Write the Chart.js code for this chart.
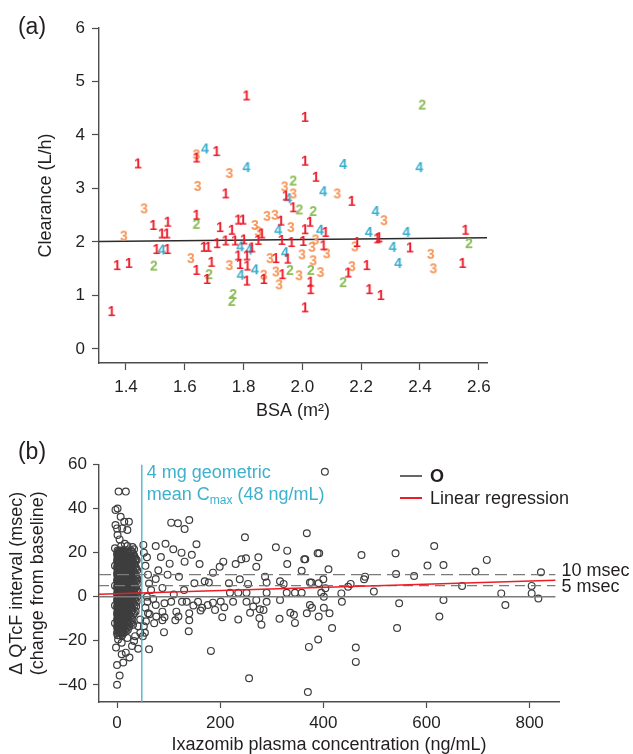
<!DOCTYPE html>
<html>
<head>
<meta charset="utf-8">
<script src="https://cdn.jsdelivr.net/npm/chart.js@4.4.1/dist/chart.umd.min.js"></script>
<style>
  html, body { margin: 0; padding: 0; background: #fff; overflow: hidden; }
  #wrap { position: relative; width: 633px; height: 754px; }
  #chartA { position: absolute; left: 0; top: 0; }
  #chartB { position: absolute; left: 0; top: 420px; }
</style>
</head>
<body>
<div id="wrap">
  <canvas id="chartA" width="633" height="425"></canvas>
  <canvas id="chartB" width="633" height="336"></canvas>
</div>
<script>
/* Panel (a): BSA vs clearance, digit = group ; panel (b): QTcF vs concentration */

// ---------- panel (a) data ----------
const group1 = [ // "1"
  [1.351, 0.69], [1.370, 1.55], [1.410, 1.59], [1.441, 3.45], [1.493, 2.30], [1.542, 2.36],
  [1.522, 2.14], [1.539, 2.14], [1.504, 1.85], [1.541, 1.85], [1.640, 3.56], [1.708, 3.68],
  [1.739, 2.89], [1.640, 2.49], [1.720, 2.26], [1.760, 2.21], [1.665, 1.89], [1.680, 1.89],
  [1.710, 1.96], [1.739, 2.01], [1.640, 1.46], [1.691, 1.61], [1.676, 1.29], [1.782, 2.40],
  [1.798, 2.40], [1.771, 2.01], [1.801, 2.03], [1.782, 1.73], [1.811, 1.73], [1.828, 1.88],
  [1.788, 1.57], [1.813, 1.54], [1.811, 1.26], [1.810, 4.72], [1.850, 2.02], [1.862, 2.14],
  [1.869, 1.29], [1.910, 1.68], [1.927, 2.38], [1.932, 1.38], [1.930, 2.02], [1.950, 1.67],
  [1.963, 1.98], [1.969, 2.63], [1.944, 2.85], [2.003, 2.00], [2.009, 2.22], [2.026, 2.36],
  [2.009, 3.50], [2.009, 4.32], [2.046, 3.20], [2.028, 1.24], [2.028, 1.10], [2.009, 0.76],
  [2.072, 1.92], [2.079, 2.17], [2.156, 1.41], [2.168, 2.75], [2.186, 1.98], [2.219, 1.55],
  [2.228, 1.10], [2.255, 2.05], [2.261, 2.07], [2.267, 0.99], [2.366, 1.88], [2.545, 1.59],
  [2.555, 2.21],
];
const group2 = [ // "2"
  [1.495, 1.54], [1.640, 2.32], [1.683, 1.38], [1.765, 1.01], [1.760, 0.88], [1.969, 3.13],
  [1.990, 2.59], [2.037, 2.56], [1.958, 1.46], [2.029, 1.46], [2.139, 1.23], [2.408, 4.55],
  [2.567, 1.96],
];
const group3 = [ // "3"
  [1.393, 2.10], [1.462, 2.61], [1.640, 3.62], [1.644, 3.03], [1.752, 3.27], [1.621, 1.68],
  [1.752, 1.55], [1.839, 2.30], [1.850, 2.18], [1.880, 2.47], [1.907, 2.49], [1.869, 1.37],
  [1.890, 1.68], [1.910, 1.43], [1.921, 1.19], [1.940, 3.02], [1.969, 2.89], [1.961, 2.26],
  [1.989, 1.36], [1.999, 1.75], [2.033, 1.89], [2.037, 1.64], [2.045, 2.03], [2.062, 1.42],
  [2.083, 1.77], [2.119, 2.89], [2.169, 1.53], [2.179, 1.90], [2.278, 2.39], [2.437, 1.76],
  [2.446, 1.49],
];
const group4 = [ // "4"
  [1.522, 1.84], [1.669, 3.73], [1.810, 3.38], [1.789, 1.90], [1.819, 1.84], [1.790, 1.37],
  [1.839, 1.47], [1.918, 2.21], [1.941, 1.79], [1.952, 2.80], [2.060, 2.21], [2.071, 2.93],
  [2.139, 3.44], [2.226, 2.17], [2.249, 2.56], [2.307, 1.89], [2.326, 1.59], [2.354, 2.17],
  [2.398, 3.38],
];
const regLineA = [[1.3082, 2.01], [2.628, 2.08]];
const xTicksA = [1.4, 1.6, 1.8, 2.0, 2.2, 2.4, 2.6];
const yTicksA = [0, 1, 2, 3, 4, 5, 6];

// ---------- panel (b) data ----------
// dense block of observations below the Cmax line: [delta, [concentrations...]]
const clusterRows = [
  [21,     [1, 4, 9, 14, 20, 27]],
  [20.25,  [2, 6, 11, 16, 22, 29]],
  [19.5,   [0, 3, 7, 12, 17, 23, 31]],
  [18.75,  [1, 4, 8, 13, 19, 25, 33]],
  [18,     [1, 5, 10, 15, 21, 26, 34]],
  [17.25,  [2, 6, 11, 16, 22, 28, 36]],
  [16.5,   [0, 3, 8, 12, 18, 24, 30, 38]],
  [15.75,  [1, 4, 9, 13, 19, 25, 31]],
  [15,     [1, 5, 10, 14, 20, 27, 33]],
  [14.25,  [2, 6, 11, 15, 21, 26, 34]],
  [13.5,   [0, 3, 7, 12, 17, 22, 29, 36]],
  [12.75,  [1, 4, 8, 13, 18, 23, 28, 37]],
  [12,     [1, 5, 9, 14, 19, 25, 31, 39]],
  [11.25,  [2, 6, 10, 15, 20, 26, 33]],
  [10.5,   [0, 3, 7, 11, 16, 21, 27, 34]],
  [9.75,   [1, 4, 8, 12, 17, 23, 29, 36]],
  [9,      [1, 5, 9, 13, 18, 24, 30, 37]],
  [8.25,   [2, 6, 10, 15, 20, 26, 32, 39]],
  [7.5,    [0, 3, 7, 12, 16, 22, 28, 35]],
  [6.75,   [1, 4, 8, 13, 18, 24, 30, 37]],
  [6,      [1, 5, 9, 14, 19, 25, 32, 40]],
  [5.25,   [2, 6, 10, 15, 21, 27, 34]],
  [4.5,    [0, 3, 7, 11, 17, 23, 29, 36]],
  [3.75,   [1, 4, 8, 12, 18, 22, 28, 35]],
  [3,      [1, 5, 9, 13, 18, 24, 31, 38]],
  [2.25,   [2, 6, 11, 15, 20, 26, 33, 40]],
  [1.5,    [0, 3, 7, 12, 16, 21, 27, 34]],
  [0.75,   [1, 4, 8, 13, 18, 23, 29, 36]],
  [0,      [1, 5, 9, 14, 19, 25, 30, 39]],
  [-0.75,  [2, 6, 10, 15, 20, 27, 33]],
  [-1.5,   [0, 3, 7, 11, 17, 22, 28, 35]],
  [-2.25,  [1, 4, 8, 12, 16, 23, 30, 38]],
  [-3,     [1, 5, 9, 13, 18, 24, 32]],
  [-3.75,  [2, 6, 10, 15, 20, 26, 34]],
  [-4.5,   [0, 3, 7, 12, 16, 21, 27, 37]],
  [-5.25,  [1, 4, 8, 13, 18, 23, 29]],
  [-6,     [1, 5, 9, 14, 19, 25, 30]],
  [-6.75,  [2, 6, 10, 15, 21, 28, 36]],
  [-7.5,   [0, 3, 7, 11, 17, 23, 33]],
  [-8.25,  [1, 4, 8, 12, 16, 24, 31]],
  [-9,     [1, 5, 9, 13, 18, 26]],
  [-9.75,  [2, 6, 10, 15, 20, 28]],
  [-10.5,  [0, 3, 7, 12, 16, 22, 30]],
  [-11.25, [1, 4, 8, 13, 18, 25]],
  [-12,    [1, 5, 9, 14, 20, 27]],
  [-12.75, [2, 6, 10, 15, 22, 31]],
  [-13.5,  [0, 3, 7, 11, 17, 24]],
  [-14.25, [1, 4, 8, 13, 19]],
  [-15,    [1, 5, 9, 15, 21]],
  [-15.75, [2, 6, 11, 17]],
  [-16.5,  [0, 4, 8, 13]],
  [-17.5,  [1, 5, 10]],
];
const clusterTails = [
  [3, 47.7], [17, 47.7], [-3, 39.4], [1, 40], [-3, 32.5], [7, 36.3], [14, 34], [23, 34],
  [20, 30.3], [1, 28], [5, 26], [33, 21.5], [27, 19.7], [36, 16.7], [0, 31], [10, 31],
  [8, 23], [15, 24], [20, 23], [30, 22.5], [-4, 22], [-4, 14], [-4, 5], [-4, -4], [-4, -12],
  [0, -40], [5, -35.8], [0, -31], [12, -29.9], [24, -27.6], [9, -26.1], [17, -25.4],
  [-2, -23.1], [29, -22.4], [41, -23.6], [33, -20.1], [9, -20.9], [2, -19.4], [45, -16.4],
  [35, -17.9], [20, -18.7], [41, -13.4], [45, -10.4],
];
const sparsePoints = [
  [51, 23.5], [58, 17.9], [75, 23], [94, 24], [105, 33.6], [118, 33.3], [131, 30.7], [140, 34.8],
  [154, 23.8], [109, 21.5], [131, 15.9], [160, 14.8], [186, 10.9], [206, 15.9], [199, 13.6],
  [248, 27], [241, 17], [250, 17.4], [274, 17.9], [270, 13.6], [230, 14.8], [308, 22.4],
  [330, 20.9], [330, 14.8], [363, 17], [368, 28.8], [389, 19.7], [358, 11.8], [150, 6.1],
  [178, 6.4], [217, 6.1], [238, 7.9], [254, 5.8], [287, 9.1], [290, 6.4], [316, 7], [323, 5.8],
  [374, 6.4], [219, 1.8], [235, 1.8], [251, 1.8], [290, 1.8], [329, 1.8], [345, 1.8], [358, 1.8],
  [105, -2.3], [126, -2.3], [135, -2.3], [157, -2.3], [186, -2.7], [225, -2.3], [251, -2.3],
  [270, -1.5], [290, -2.3], [316, -1.5], [374, -3.8], [176, -3.8], [258, -7.3], [277, -5.7],
  [336, -7.3], [368, -7.5], [115, -6.8], [88, -6.8], [75, -3.8], [59, -2.3],
  [403, 56.7], [392, 19.7], [365, 17], [410, 12.4], [400, 7.9], [377, 6.4], [391, 6.1],
  [404, 3.8], [396, 1.8], [401, 0], [435, 1.5], [436, -2.3], [378, -5], [401, -5], [391, -9],
  [412, -7.5], [474, 18.9], [481, 9.1], [479, 7.9], [453, 5.8], [448, 4.5], [498, 2.3],
  [540, 19.7], [541, 10.3], [547, -3], [576, 9.4], [602, 14.1], [615, 23], [633, 14.4],
  [633, -1.5], [625, -9], [669, 4.9], [695, 11.4], [717, 16.7], [745, 1.5], [753, -3.8],
  [804, 4.9], [804, 1.5], [817, -0.8], [822, 11.1],
  [201, -2.2], [208, -4.8], [204, -9.3], [190, -6], [162, -6.3], [140, -7.5], [140, -10.7],
  [139, -15.7], [119, -9], [113, -10.7], [92, -9.3], [91, -16.1], [88, -10.7], [76, -9],
  [60, -7.5], [56, -11.2], [54, -16.4], [52, -13.4], [62, -23.9], [182, -24.6], [235, -10.4],
  [256, -37], [264, -4.5], [276, -9.7], [280, -12.7], [284, -6], [315, -10], [343, -8.2],
  [345, -11.9], [417, -14.2], [372, -22.8], [390, -19.4], [370, -43.3], [463, -23.1],
  [463, -29.6], [543, -14.2],
  [52, 20], [55, 14], [60, 10], [62, 6], [66, 3], [58, 0], [70, -1], [75, 8], [80, 12],
  [85, 18], [88, 4], [92, -3], [98, 10], [102, 15], [110, 1], [120, 9], [125, 20], [130, 3],
  [145, 19], [148, -4], [165, -5], [170, 7], [55, -5], [63, -8], [72, -12], [50, -18],
];
const regLineB = [[-35, 1.1], [850, 7.5]];
const refLevels = [0, 5, 10];
const refSpan = [-35, 850];
const cmaxConc = 48;
const xTicksB = [0, 200, 400, 600, 800];
const yTicksB = [-40, -20, 0, 20, 40, 60];

// ---------- styling ----------
const FONT = '"Liberation Sans", Arial, Helvetica, sans-serif';
const INK = '#231f20';
const AXIS = '#4d4d4d';
const GROUP_COLORS = ['#ec1c2b', '#8cbd58', '#f6975a', '#3aadcd'];
const CYAN = '#3eb1cd';

Chart.defaults.font.family = FONT;
Chart.defaults.color = INK;

const toXY = (pts) => pts.map(([x, y]) => ({ x, y }));
const fixedTicks = (vals) => (scale) => { scale.ticks = vals.map((value) => ({ value })); };
const minus = (v) => (v < 0 ? '\u2212' + Math.abs(v) : String(v));

function digitImage(ch, color) {
  const c = document.createElement('canvas');
  c.width = 16;
  c.height = 20;
  const g = c.getContext('2d');
  g.font = 'bold 14px ' + FONT;
  g.fillStyle = color;
  g.textAlign = 'center';
  g.textBaseline = 'middle';
  g.fillText(ch, 8, 10.5);
  return c;
}

function axisStyle(extra) {
  return Object.assign({
    type: 'linear',
    grid: { drawOnChartArea: false, drawTicks: true, tickLength: 7, tickColor: AXIS, tickWidth: 1.2 },
    border: { display: true, color: AXIS, width: 1.4 },
  }, extra);
}

const panelLabel = (text, x, y) => ({
  id: 'panelLabel' + text,
  afterDraw(chart) {
    const { ctx } = chart;
    ctx.save();
    ctx.font = '23px ' + FONT;
    ctx.fillStyle = INK;
    ctx.textAlign = 'center';
    ctx.textBaseline = 'middle';
    ctx.fillText(text, x, y);
    ctx.restore();
  },
});

// ---------- chart (a) ----------
const groups = [group1, group2, group3, group4];
const datasetsA = groups.map((pts, i) => ({
  label: String(i + 1),
  data: toXY(pts),
  pointStyle: digitImage(String(i + 1), GROUP_COLORS[i]),
  pointRadius: 5,
  order: 1,
}));
datasetsA.push({
  type: 'line',
  label: 'fit',
  data: toXY(regLineA),
  borderColor: '#2b2b2b',
  borderWidth: 1.4,
  pointRadius: 0,
  order: 10,
});

new Chart(document.getElementById('chartA'), {
  type: 'scatter',
  data: { datasets: datasetsA },
  options: {
    responsive: false,
    animation: false,
    events: [],
    layout: { padding: { left: 0, top: 28, right: 146, bottom: 0 } },
    plugins: { legend: { display: false }, tooltip: { enabled: false } },
    scales: {
      x: axisStyle({
        min: 1.3082,
        max: 2.628,
        afterBuildTicks: fixedTicks(xTicksA),
        afterFit(s) { s.height = 62; s.paddingLeft = 0; s.paddingRight = 0; },
        ticks: { callback: (v) => v.toFixed(1), font: { size: 17 }, padding: 7, color: INK, maxRotation: 0, autoSkip: false },
        title: { display: true, text: 'BSA (m\u00b2)', font: { size: 18 }, color: INK, padding: { top: 0, bottom: 3 } },
      }),
      y: axisStyle({
        min: -0.262,
        max: 6,
        afterBuildTicks: fixedTicks(yTicksA),
        afterFit(s) { s.width = 99; s.paddingTop = 0; s.paddingBottom = 0; },
        ticks: { font: { size: 17 }, padding: 7, color: INK },
        title: { display: true, text: 'Clearance (L/h)', font: { size: 18 }, color: INK, padding: { top: 35, bottom: 0 } },
      }),
    },
  },
  plugins: [panelLabel('(a)', 32, 28)],
});

// ---------- chart (b) ----------
const clusterPts = [];
clusterRows.forEach(([y, xs]) => xs.forEach((x) => clusterPts.push({ x, y })));

const annotationsB = {
  id: 'annotationsB',
  afterDraw(chart) {
    const { ctx } = chart;
    const xs = chart.scales.x;
    const ys = chart.scales.y;
    ctx.save();
    ctx.textBaseline = 'middle';
    ctx.textAlign = 'left';

    // Cmax note
    const cx = xs.getPixelForValue(cmaxConc) + 5;
    ctx.fillStyle = CYAN;
    ctx.font = '18px ' + FONT;
    ctx.fillText('4 mg geometric', cx, 53);
    let tx = cx;
    ctx.fillText('mean C', tx, 75);
    tx += ctx.measureText('mean C').width;
    ctx.font = '12px ' + FONT;
    ctx.fillText('max', tx, 81);
    tx += ctx.measureText('max').width;
    ctx.font = '18px ' + FONT;
    ctx.fillText(' (48 ng/mL)', tx, 75);

    // legend
    ctx.lineWidth = 2;
    ctx.strokeStyle = '#666';
    ctx.beginPath(); ctx.moveTo(400, 56); ctx.lineTo(422, 56); ctx.stroke();
    ctx.strokeStyle = '#ee1c25';
    ctx.beginPath(); ctx.moveTo(400, 78); ctx.lineTo(422, 78); ctx.stroke();
    ctx.fillStyle = INK;
    ctx.font = 'bold 18px ' + FONT;
    ctx.fillText('O', 430, 57);
    ctx.font = '18px ' + FONT;
    ctx.fillText('Linear regression', 430, 79);

    // reference labels
    const lx = xs.getPixelForValue(refSpan[1]) + 6;
    ctx.fillText('10 msec', lx, ys.getPixelForValue(10) - 4);
    ctx.fillText('5 msec', lx, ys.getPixelForValue(5) + 1);
    ctx.restore();
  },
};

const pointStyleB = {
  pointRadius: 3.4,
  pointBackgroundColor: 'rgba(0,0,0,0)',
  pointBorderColor: '#3e3e3e',
  pointBorderWidth: 1.2,
  order: 5,
};

const refDatasets = refLevels.map((lvl) => ({
  type: 'line',
  label: 'ref' + lvl,
  data: [{ x: refSpan[0], y: lvl }, { x: refSpan[1], y: lvl }],
  borderColor: '#7a7a7a',
  borderWidth: 1.4,
  borderDash: lvl === 0 ? [] : (lvl === 10 ? [12, 6] : [10, 6]),
  pointRadius: 0,
  order: 3,
}));

new Chart(document.getElementById('chartB'), {
  type: 'scatter',
  data: {
    datasets: [
      Object.assign({ label: 'cluster', data: clusterPts }, pointStyleB),
      Object.assign({ label: 'tails', data: toXY(clusterTails) }, pointStyleB),
      Object.assign({ label: 'O', data: toXY(sparsePoints) }, pointStyleB),
      ...refDatasets,
      {
        type: 'line',
        label: 'Cmax',
        data: [{ x: cmaxConc, y: -47.8 }, { x: cmaxConc, y: 60 }],
        borderColor: CYAN,
        borderWidth: 1.3,
        pointRadius: 0,
        order: 2,
      },
      {
        type: 'line',
        label: 'Linear regression',
        data: toXY(regLineB),
        borderColor: '#ee1c25',
        borderWidth: 1.5,
        pointRadius: 0,
        order: 1,
      },
    ],
  },
  options: {
    responsive: false,
    animation: false,
    events: [],
    layout: { padding: { left: 0, top: 44.5, right: 74, bottom: 0 } },
    plugins: { legend: { display: false }, tooltip: { enabled: false } },
    scales: {
      x: axisStyle({
        min: -35,
        max: 857,
        afterBuildTicks: fixedTicks(xTicksB),
        afterFit(s) { s.height = 54; s.paddingLeft = 0; s.paddingRight = 0; },
        grid: { drawOnChartArea: false, tickLength: 6, tickColor: AXIS, tickWidth: 1.2 },
        ticks: { font: { size: 17 }, padding: 5, color: INK, maxRotation: 0, autoSkip: false },
        title: { display: true, text: 'Ixazomib plasma concentration (ng/mL)', font: { size: 18 }, color: INK, padding: { top: 0, bottom: 0 } },
      }),
      y: axisStyle({
        min: -47.8,
        max: 60,
        afterBuildTicks: fixedTicks(yTicksB),
        afterFit(s) { s.width = 99; s.paddingTop = 0; s.paddingBottom = 0; },
        grid: { drawOnChartArea: false, tickLength: 6, tickColor: AXIS, tickWidth: 1.2 },
        ticks: { callback: minus, font: { size: 17 }, padding: 6, color: INK },
        title: {
          display: true,
          text: ['\u0394 QTcF interval (msec)', '(change from baseline)'],
          font: { size: 18 },
          color: INK,
          padding: { top: 6, bottom: 0 },
        },
      }),
    },
  },
  plugins: [annotationsB, panelLabel('(b)', 32, 33)],
});
</script>
</body>
</html>
